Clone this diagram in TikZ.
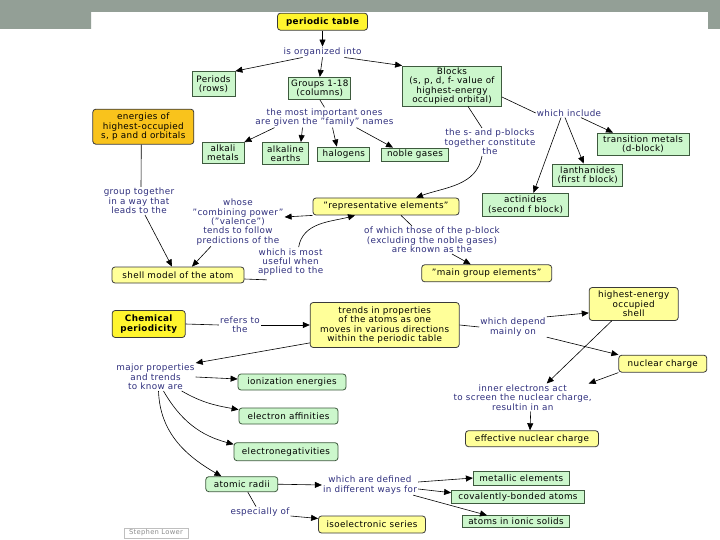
\documentclass[tikz,border=0pt]{standalone}
\usepackage{fontspec}
\setmainfont{DejaVu Sans}[LetterSpace=4]
\usetikzlibrary{arrows.meta}
\definecolor{bandgray}{HTML}{939F96}
\definecolor{ypale}{HTML}{FFFF99}
\definecolor{ybrite}{HTML}{FFF52E}
\definecolor{gpale}{HTML}{CCF7CC}
\definecolor{orangec}{HTML}{F9C31C}
\definecolor{boxline}{HTML}{3A3A3A}
\definecolor{gline}{HTML}{3E5A3E}
\definecolor{navy}{HTML}{30307E}
\newcommand\cmfs{\fontsize{8.8}{9.4}\selectfont}
\newcommand\dq{\symbol{34}}
\tikzset{
  box/.style={font=\cmfs, align=center, inner sep=1pt, line width=0.8pt, text=black},
  ybox/.style={box, draw=boxline, fill=ypale, rounded corners=3pt},
  ybright/.style={box, draw=boxline, fill=ybrite, rounded corners=3pt, font=\cmfs\bfseries},
  gbox/.style={box, draw=gline, fill=gpale},
  grbox/.style={gbox, rounded corners=3pt},
  obox/.style={box, draw=boxline, fill=orangec, rounded corners=3pt},
  lbl/.style={font=\cmfs, align=center, text=navy, inner sep=1pt},
  arr/.style={-{Triangle[length=7pt,width=6pt]}, line width=0.6pt},
  ln/.style={line width=0.6pt},
  sz/.style 2 args={minimum width=#1pt, minimum height=#2pt}
}
\begin{document}
\begin{tikzpicture}[x=1pt,y=-1pt]
\useasboundingbox (0,0) rectangle (720,540);
\fill[white] (0,0) rectangle (720,540);
\fill[bandgray] (0,0) -- (720,0) -- (720,29) -- (708,29) -- (708,12) -- (91,12) -- (91,29) -- (0,29) -- cycle;

% nodes
\node[ybright, sz={90}{17}] (pt) at (322.5,21.7) {periodic table};
\node[lbl] (organized) at (322.5,52) {is organized into};
\node[gbox, sz={43}{25}] (periods) at (213.5,84) {Periods\\(rows)};
\node[gbox, sz={62}{22}] (groups) at (319.8,88.3) {Groups 1-18\\(columns)};
\node[gbox, sz={99}{40}] (blocks) at (452,86) {Blocks\\(s, p, d, f- value of\\highest-energy\\occupied orbital)};
\node[lbl] (important) at (324.5,117.5) {the most important ones\\are given the \dq family\dq\ names};
\node[obox, sz={101}{35}] (energies) at (143.3,126.7) {energies of\\highest-occupied\\s, p and d orbitals};
\node[gbox, sz={42}{21}] (alkali) at (223,153) {alkali\\metals};
\node[gbox, sz={46}{22}] (alkaline) at (285.5,153.5) {alkaline\\earths};
\node[gbox, sz={52}{14}] (halogens) at (343.8,154) {halogens};
\node[gbox, sz={67}{13}] (noble) at (415,154.5) {noble gases};
\node[lbl] (include) at (569,113) {which include};
\node[lbl] (spblocks) at (490,142) {the s- and p-blocks\\together constitute\\the};
\node[gbox, sz={92}{22}] (transition) at (643,144) {transition metals\\(d-block)};
\node[gbox, sz={70}{22}] (lanth) at (587.7,175) {lanthanides\\(first f block)};
\node[gbox, sz={86}{23}] (actin) at (525.5,204.7) {actinides\\(second f block)};
\node[lbl] (grouptog) at (139,201) {group together\\in a way that\\leads to the};
\node[lbl] (whose) at (238,222) {whose\\\dq combining power\dq\\(\dq valence\dq)\\tends to follow\\predictions of the};
\node[ybox, sz={146}{17}] (rep) at (386,206.5) {\dq representative elements\dq};
\node[lbl] (mostuseful) at (290.6,262) {which is most\\useful when\\applied to the};
\node[lbl] (ofwhich) at (432,240) {of which those of the p-block\\(excluding the noble gases)\\are known as the};
\node[ybox, sz={132}{16}] (shell) at (178,275) {shell model of the atom};
\node[ybox, sz={130}{17}] (maingroup) at (486.7,273.3) {\dq main group elements\dq};
\node[ybright, sz={73}{27}] (chem) at (148.7,324) {Chemical\\periodicity};
\node[lbl] (refers) at (240,325) {refers to\\the};
\node[ybox, sz={149}{45}] (trends) at (384.7,325) {trends in properties\\of the atoms as one\\moves in various directions\\within the periodic table};
\node[lbl] (whichdepend) at (513,327) {which depend\\mainly on};
\node[ybox, sz={89}{33}] (highest) at (633.7,304) {highest-energy\\occupied\\shell};
\node[ybox, sz={88}{17}] (nuclear) at (662.8,363.7) {nuclear charge};
\node[lbl] (inner) at (522.7,397.5) {inner electrons act\\to screen the nuclear charge,\\resultin in an};
\node[ybox, sz={133}{16}] (effective) at (532,438.7) {effective nuclear charge};
\node[lbl] (major) at (155.5,377) {major properties\\and trends\\to know are};
\node[grbox, sz={108}{16}] (ioniz) at (292,382) {ionization energies};
\node[grbox, sz={99}{16}] (affin) at (288.5,416) {electron affinities};
\node[grbox, sz={104}{18}] (electroneg) at (286,451.7) {electronegativities};
\node[grbox, sz={72}{15}] (radii) at (241.8,484.2) {atomic radii};
\node[lbl] (defined) at (370,485) {which are defined\\in different ways for};
\node[gbox, sz={96}{14}] (metallic) at (521.3,478) {metallic elements};
\node[gbox, sz={133}{13}] (covalent) at (518,496.7) {covalently-bonded atoms};
\node[gbox, sz={107}{12}] (ionic) at (516,521.7) {atoms in ionic solids};
\node[lbl] (especially) at (260,512) {especially of};
\node[ybox, sz={107}{17}] (iso) at (372,524.5) {isoelectronic series};
\node[draw=black!25, line width=0.5pt, text=black!45, font=\fontsize{6.8}{7}\selectfont, inner sep=1pt, sz={64}{10}] (stephen) at (156,533) {Stephen Lower};

% connectors
\draw[arr] (pt.south) -- (organized.north);
\draw[arr] (organized.south) -- (groups.north);
\draw[arr] ([xshift=-20pt]organized.south) -- (periods.north east);
\draw[arr] ([xshift=22pt]organized.south) -- (blocks.north west);
\draw[ln] (groups.south) -- (important.north);
\draw[arr] ([xshift=-50pt]important.south) -- (alkali.north east);
\draw[arr] ([xshift=-22pt]important.south) -- ([xshift=-8pt]alkaline.north east);
\draw[arr] ([xshift=8pt]important.south) -- ([xshift=-7pt]halogens.north);
\draw[arr] ([xshift=32pt]important.south) -- ([xshift=-22pt]noble.north);
\draw[ln] ([yshift=-11pt]blocks.east) -- (include.west);
\draw[arr] ([xshift=12pt]include.south) -- ([xshift=-30pt]transition.north);
\draw[arr] ([xshift=-4pt]include.south) -- ([xshift=-4pt]lanth.north);
\draw[arr] ([xshift=-8pt]include.south) -- ([xshift=8pt]actin.north);
\draw[ln] ([xshift=16pt]blocks.south) -- ([xshift=-8pt]spblocks.north);
\draw[arr] ([xshift=-8pt]spblocks.south) to[out=-100,in=20] ([xshift=30pt]rep.north);
\draw[ln] ([xshift=-2pt]energies.south) -- ([xshift=2pt]grouptog.north);
\draw[arr] ([xshift=6pt]grouptog.south) -- ([xshift=-6pt]shell.north);
\draw[arr] (rep.south west) -- ([yshift=5pt]whose.east);
\draw[arr] ([xshift=-27pt]whose.south) -- ([xshift=14pt]shell.north);
\draw[ln] ([yshift=-4pt]shell.east) -- ([xshift=10pt,yshift=-3pt]mostuseful.south west);
\draw[arr] ([xshift=8pt]mostuseful.north) to[out=80,in=195] ([xshift=-31pt]rep.south);
\draw[ln] ([xshift=15pt]rep.south) -- ([xshift=-20pt]ofwhich.north);
\draw[arr] ([xshift=20pt]ofwhich.south) -- ([xshift=-16pt]maingroup.north);
\draw[ln] (chem.east) -- (refers.west);
\draw[arr] (refers.east) -- (trends.west);
\draw[ln] (trends.east) -- (whichdepend.west);
\draw[arr] (whichdepend.north east) -- ([yshift=8pt]highest.south west);
\draw[arr] (whichdepend.south east) -- (nuclear.north west);
\draw[arr] ([xshift=-22pt]highest.south) -- ([xshift=24pt]inner.north);
\draw[arr] (nuclear.south west) -- ([xshift=66pt]inner.north);
\draw[arr] ([xshift=8pt]inner.south) -- ([xshift=-2pt]effective.north);
\draw[arr] ([yshift=5pt]trends.south west) -- (major.north east);
\draw[arr] (major.east) -- ([yshift=3pt]ioniz.west);
\draw[arr] ([xshift=-14pt]major.south east) to[out=-30,in=170] ([yshift=-2pt]affin.north west);
\draw[arr] ([xshift=8pt]major.south) to[out=-60,in=165] ([yshift=-2pt]electroneg.north west);
\draw[arr] ([xshift=3pt]major.south) to[out=-88,in=150] ([xshift=16pt]radii.north west);
\draw[arr] (radii.east) -- (defined.west);
\draw[arr] ([yshift=3pt]defined.east) -- (metallic.west);
\draw[arr] ([yshift=-4pt]defined.east) -- ([yshift=4pt]covalent.west);
\draw[arr] ([xshift=-5pt]defined.south east) -- ([xshift=-29pt]ionic.north);
\draw[ln] ([xshift=6pt]radii.south) -- ([xshift=-4pt]especially.north);
\draw[arr] ([yshift=-4pt]especially.east) -- ([yshift=6pt]iso.west);
\end{tikzpicture}
\end{document}
